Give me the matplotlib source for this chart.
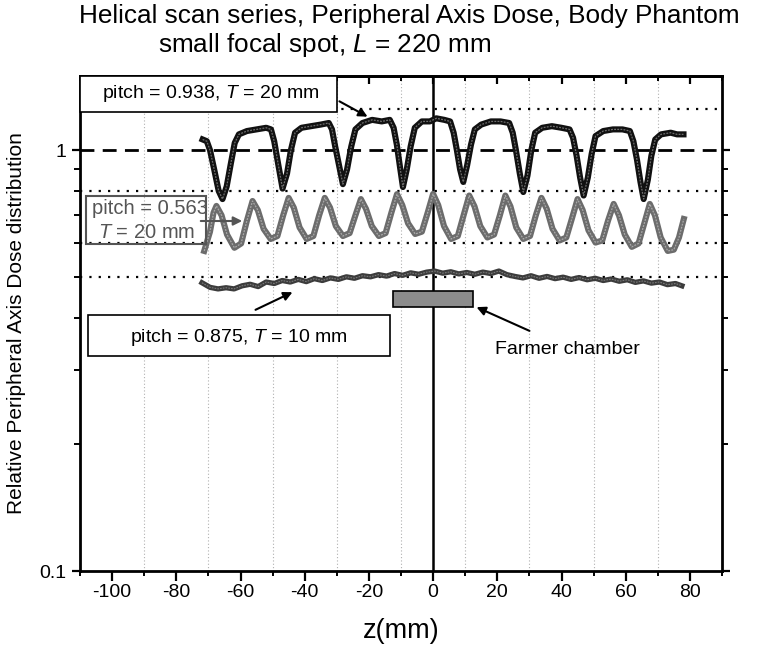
import numpy as np
import matplotlib
matplotlib.use("Agg")
import matplotlib.pyplot as plt
from matplotlib.patches import Rectangle

plt.rcParams['font.family'] = ['Liberation Sans', 'DejaVu Sans']
plt.rcParams['mathtext.fontset'] = 'custom'
plt.rcParams['mathtext.it'] = 'Liberation Sans:italic'
plt.rcParams['mathtext.rm'] = 'Liberation Sans'

# ---------------- data ----------------
# pitch = 0.938, T = 20 mm
z1 = [-71.8, -70.5, -69.5, -68.2, -66.8, -65.6,
      -64.3, -63.0, -61.8, -60.5, -58.0, -55.0, -52.0, -50.5, -49.5, -48.3, -46.9,
      -45.5, -44.3, -43.0, -41.0, -38.0, -35.0, -32.5, -31.5, -30.5, -29.3, -28.1,
      -26.8, -25.5, -24.2, -22.0, -19.0, -16.0, -13.5, -12.3, -11.3, -10.3, -9.4,
      -8.2, -7.0, -5.7, -3.5, -1.0, 1.0, 3.5, 5.3, 6.4, 7.4, 8.4, 9.4,
      10.6, 11.8, 13.0, 15.0, 18.0, 21.0, 23.7, 24.8, 25.8, 27.0, 28.1,
      29.4, 30.6, 31.8, 34.0, 37.0, 40.0, 42.5, 43.6, 44.7, 45.8, 46.9,
      48.2, 49.4, 50.6, 53.0, 56.0, 59.0, 61.3, 62.4, 63.5, 64.6, 65.6,
      66.9, 68.0, 69.2, 71.0, 74.0, 76.0, 78.0]
d1 = [1.06, 1.05, 1.00, 0.90, 0.80, 0.765,
      0.82, 0.93, 1.04, 1.09, 1.11, 1.12, 1.13, 1.12, 1.05, 0.93, 0.81,
      0.88, 1.00, 1.10, 1.13, 1.14, 1.15, 1.16, 1.12, 1.02, 0.92, 0.83,
      0.90, 1.02, 1.12, 1.16, 1.18, 1.17, 1.18, 1.13, 1.03, 0.91, 0.817,
      0.90, 1.02, 1.13, 1.17, 1.17, 1.19, 1.18, 1.17, 1.10, 1.00, 0.90, 0.84,
      0.92, 1.03, 1.12, 1.15, 1.17, 1.17, 1.16, 1.10, 1.00, 0.88, 0.795,
      0.87, 1.00, 1.10, 1.13, 1.14, 1.13, 1.12, 1.07, 0.97, 0.86, 0.78,
      0.86, 0.98, 1.08, 1.11, 1.12, 1.12, 1.11, 1.05, 0.95, 0.84, 0.765,
      0.85, 0.97, 1.06, 1.09, 1.10, 1.09, 1.09]

# pitch = 0.563, T = 20 mm
z2 = [-71.3, -69.5, -68.4, -67.5,
      -65.9, -64.2, -61.9, -59.8, -58.0, -56.25,
      -54.6, -52.8, -50.6, -48.5, -46.7, -45.0,
      -43.4, -41.6, -39.4, -37.3, -35.5, -33.75,
      -32.1, -30.3, -28.1, -26.0, -24.2, -22.5,
      -20.9, -19.1, -16.9, -14.8, -13.0, -11.25,
      -9.6, -7.8, -5.6, -3.5, -1.7, 0.0,
      1.6, 3.4, 5.6, 7.7, 9.5, 11.25,
      12.9, 14.7, 16.9, 19.0, 20.8, 22.5,
      24.1, 25.9, 28.1, 30.2, 32.0, 33.75,
      35.4, 37.2, 39.4, 41.5, 43.3, 45.0,
      46.6, 48.4, 50.6, 52.7, 54.5, 56.25,
      57.9, 59.7, 61.9, 64.0, 65.8, 67.5,
      69.1, 70.9, 73.1, 75.0, 76.6, 78.1]
d2 = [0.576, 0.64, 0.71, 0.737,
      0.70, 0.63, 0.586, 0.60, 0.68, 0.757,
      0.72, 0.65, 0.615, 0.625, 0.70, 0.77,
      0.73, 0.655, 0.615, 0.625, 0.70, 0.77,
      0.73, 0.66, 0.625, 0.635, 0.70, 0.765,
      0.725, 0.66, 0.625, 0.635, 0.71, 0.786,
      0.74, 0.67, 0.632, 0.64, 0.71, 0.787,
      0.74, 0.66, 0.615, 0.625, 0.70, 0.78,
      0.735, 0.66, 0.62, 0.63, 0.70, 0.78,
      0.735, 0.655, 0.615, 0.625, 0.70, 0.77,
      0.725, 0.65, 0.61, 0.62, 0.69, 0.765,
      0.72, 0.645, 0.603, 0.61, 0.68, 0.745,
      0.70, 0.63, 0.589, 0.60, 0.67, 0.745,
      0.70, 0.62, 0.576, 0.58, 0.62, 0.686]

# pitch = 0.875, T = 10 mm
z3 = [-72, -69.5, -67, -64.5, -62, -59.5, -57, -54.5, -52, -49.5, -47, -44.5,
      -42, -39.5, -37, -34.5, -32, -29.5, -27, -24.5, -22, -19.5, -17, -14.5,
      -12, -9.5, -7, -4.5, -2, 0.5, 3, 5.5, 8, 10.5, 13, 15.5, 18, 20.5, 23,
      25.5, 28, 30.5, 33, 35.5, 38, 40.5, 43, 45.5, 48, 50.5, 53, 55.5, 58,
      60.5, 63, 65.5, 68, 70.5, 73, 75.5, 77.5]
d3 = [0.484, 0.472, 0.468, 0.471, 0.468, 0.476, 0.480, 0.474, 0.486, 0.482,
      0.490, 0.486, 0.493, 0.487, 0.495, 0.490, 0.497, 0.493, 0.500, 0.496,
      0.503, 0.500, 0.506, 0.502, 0.509, 0.504, 0.511, 0.507, 0.513, 0.516,
      0.510, 0.514, 0.508, 0.512, 0.507, 0.513, 0.509, 0.516, 0.506, 0.501,
      0.497, 0.503, 0.496, 0.501, 0.495, 0.499, 0.493, 0.498, 0.492, 0.496,
      0.490, 0.494, 0.488, 0.492, 0.485, 0.489, 0.483, 0.486, 0.479, 0.482,
      0.476]

dotted_levels = [1.25, 0.8, 0.6, 0.5]
dashed_level = 1.0
chamber_z = (-12.5, 12.5)
chamber_d = (0.425, 0.463)

xmajor = [-100, -80, -60, -40, -20, 0, 20, 40, 60, 80]
xminor = [-110, -90, -70, -50, -30, -10, 10, 30, 50, 70, 90]
xgrid = [-90, -70, -50, -30, -10, 10, 30, 50, 70]

# ---------------- figure ----------------
W, H = 761, 648
fig = plt.figure(figsize=(W / 100, H / 100), dpi=100)
L, R, T, B = 80, 722, 76, 571
ax = fig.add_axes([L / W, 1 - B / H, (R - L) / W, (B - T) / H])
ax.set_yscale('log')
ax.set_xlim(-110, 90)
ax.set_ylim(0.1, 1.5)

for g in xgrid:
    ax.axvline(g, color='#b0b0b0', lw=0.8, ls=(0, (1, 2)), zorder=0)
for lv in dotted_levels:
    ax.axhline(lv, color='black', lw=1.6, ls=(0, (1, 3.2)), zorder=1)
ax.axhline(dashed_level, color='black', lw=2.0, ls=(0, (5, 3)), zorder=1)
ax.axvline(0, color='black', lw=1.8, zorder=2)

# curves (marker-chain look: thick dark stroke with slightly lighter core)
ax.plot(z1, d1, color='#111111', lw=4.4, solid_joinstyle='round', zorder=4)
ax.plot(z1, d1, color='#6e6e6e', lw=0.9, ls=(0, (1.5, 1)), zorder=5)
ax.plot(z2, d2, color='#6c6c6c', lw=4.4, solid_joinstyle='round', zorder=4)
ax.plot(z2, d2, color='#a8a8a8', lw=0.9, ls=(0, (1.5, 1)), zorder=5)
ax.plot(z3, d3, color='#3c3c3c', lw=3.8, solid_joinstyle='round', zorder=4)
ax.plot(z3, d3, color='#7a7a7a', lw=0.8, ls=(0, (1.5, 1)), zorder=5)

ax.add_patch(Rectangle((chamber_z[0], chamber_d[0]), chamber_z[1] - chamber_z[0],
                       chamber_d[1] - chamber_d[0], facecolor='#8c8c8c',
                       edgecolor='black', lw=1.2, zorder=6))

# ticks
ax.set_xticks(xmajor)
ax.set_xticks(xminor, minor=True)
ax.set_xticklabels([str(v) for v in xmajor])
ax.set_yticks([0.1, 1])
ax.set_yticklabels(['0.1', '1'])
ax.yaxis.set_minor_locator(matplotlib.ticker.LogLocator(base=10, subs=np.arange(2, 10)))
ax.yaxis.set_minor_formatter(matplotlib.ticker.NullFormatter())
ax.tick_params(axis='x', which='major', direction='out', length=7, width=1.6,
               labelsize=14, pad=2.5, top=False)
ax.tick_params(axis='x', which='minor', direction='out', length=3.5, width=1.4, top=False)
ax.tick_params(axis='y', which='major', direction='out', length=6, width=1.6,
               labelsize=14, right=True)
ax.tick_params(axis='y', which='minor', direction='out', length=4, width=1.4, right=True)
for s in ax.spines.values():
    s.set_linewidth(2.0)

top = ax.secondary_xaxis('top')
top.set_xticks(xmajor)
top.set_xticks(xminor, minor=True)
top.tick_params(which='major', direction='in', length=6, width=1.6, labeltop=False)
top.tick_params(which='minor', direction='in', length=3.5, width=1.4)
top.spines['top'].set_linewidth(2.0)

ax.set_xlabel('z(mm)', fontsize=19.5, labelpad=12)
ax.set_ylabel('Relative Peripheral Axis Dose distribution', fontsize=15, labelpad=10)

fig.text(79 / W, 1 - 16 / H, 'Helical scan series, Peripheral Axis Dose, Body Phantom',
         fontsize=18.8, ha='left', va='center')
fig.text(158 / W, 1 - 45 / H, r'small focal spot, $L$ = 220 mm',
         fontsize=18.8, ha='left', va='center')

# annotation boxes (axes fraction)
def px(x, y):
    return ((x - L) / (R - L), (B - y) / (B - T))

x0, y0 = px(80, 112); x1, y1 = px(337, 76)
ax.add_patch(Rectangle((x0, y0), x1 - x0, y1 - y0, transform=ax.transAxes,
                       facecolor='white', edgecolor='black', lw=1.2, zorder=7, clip_on=False))
ax.text(*px(211, 94), r'pitch = 0.938, $T$ = 20 mm', transform=ax.transAxes,
        fontsize=14, ha='center', va='center', zorder=8)

x0, y0 = px(86, 244); x1, y1 = px(206, 196)
ax.add_patch(Rectangle((x0, y0), x1 - x0, y1 - y0, transform=ax.transAxes,
                       facecolor='none', edgecolor='#555555', lw=1.5, zorder=7))
ax.text(*px(150, 208), 'pitch = 0.563', transform=ax.transAxes, color='#555555',
        fontsize=14.5, ha='center', va='center', zorder=3)
ax.text(*px(147, 232), r'$T$ = 20 mm', transform=ax.transAxes, color='#555555',
        fontsize=14.5, ha='center', va='center', zorder=3)

x0, y0 = px(88, 356); x1, y1 = px(390, 315)
ax.add_patch(Rectangle((x0, y0), x1 - x0, y1 - y0, transform=ax.transAxes,
                       facecolor='white', edgecolor='black', lw=1.2, zorder=7))
ax.text(*px(239, 337), r'pitch = 0.875, $T$ = 10 mm', transform=ax.transAxes,
        fontsize=14, ha='center', va='center', zorder=8)

ax.text(*px(495, 350), 'Farmer chamber', transform=ax.transAxes,
        fontsize=14, ha='left', va='center', zorder=8)

arrow = dict(arrowstyle='-|>', lw=1.5, mutation_scale=13)
ax.annotate('', xy=px(370, 118), xytext=px(337, 100), xycoords='axes fraction',
            textcoords='axes fraction', arrowprops=dict(arrow, color='black'), zorder=8)
ax.annotate('', xy=px(245, 221), xytext=px(198, 221), xycoords='axes fraction',
            textcoords='axes fraction', arrowprops=dict(arrow, color='#555555'), zorder=8)
ax.annotate('', xy=px(295, 291), xytext=px(253, 311), xycoords='axes fraction',
            textcoords='axes fraction', arrowprops=dict(arrow, color='black'), zorder=8)
ax.annotate('', xy=px(474, 306), xytext=px(532, 332), xycoords='axes fraction',
            textcoords='axes fraction', arrowprops=dict(arrow, color='black'), zorder=8)

fig.savefig('out.png', dpi=100)
